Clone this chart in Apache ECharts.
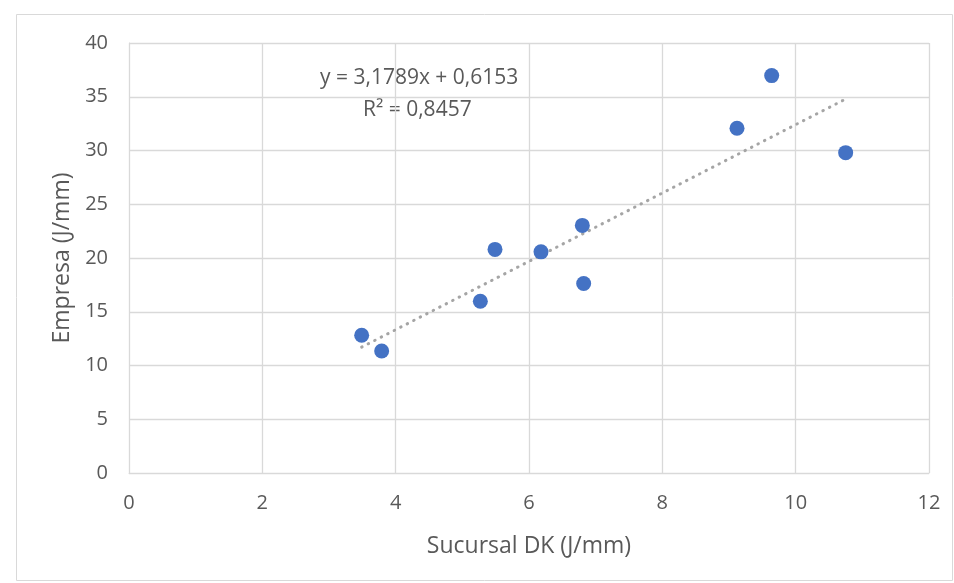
<!DOCTYPE html>
<html>
<head>
<meta charset="utf-8">
<script src="https://cdn.jsdelivr.net/npm/echarts@6/dist/echarts.min.js"></script>
<style>
  html, body { margin: 0; padding: 0; background: #fff; }
  #chart { width: 954px; height: 583px; }
</style>
</head>
<body>
<div id="chart"></div>
<script>
// data
const sucursal = [3.49, 3.79, 5.27, 5.49, 6.18, 6.80, 6.82, 9.12, 9.64, 10.75];
const empresa  = [12.82, 11.35, 15.98, 20.8, 20.57, 23.03, 17.63, 32.07, 36.97, 29.8];

const slope = 3.1789;
const intercept = 0.6153;
const r2 = "0,8457";

const xTicks = [0, 2, 4, 6, 8, 10, 12];
const yTicks = [0, 5, 10, 15, 20, 25, 30, 35, 40];

const points = sucursal.map((x, i) => [x, empresa[i]]);
const xMin = Math.min(...sucursal);
const xMax = Math.max(...sucursal);
const trend = [xMin, xMax].map(x => [x, slope * x + intercept]);

const fmt = v => String(v).replace(".", ",");
const textColor = "#595959";
const font = "'Open Sans', Lato, sans-serif";

const chart = echarts.init(document.getElementById("chart"));
chart.setOption({
  animation: false,
  grid: { left: 129, right: 25, top: 43, bottom: 110 },
  graphic: [
    {
      type: 'rect',
      shape: { x: 16.5, y: 14.5, width: 936, height: 566 },
      style: { fill: 'none', stroke: '#d9d9d9', lineWidth: 1 },
      silent: true
    },
    {
      type: 'text',
      left: 320, top: 68,
      style: { text: `y = ${fmt(slope)}x + ${fmt(intercept)}`, fill: textColor, font: `21px ${font}` }
    },
    {
      type: 'text',
      left: 363, top: 100,
      style: { text: `R² = ${r2}`, fill: textColor, font: `21px ${font}` }
    }
  ],
  xAxis: {
    type: 'value',
    min: xTicks[0], max: xTicks[xTicks.length - 1], interval: 2,
    name: 'Sucursal DK (J/mm)',
    nameLocation: 'middle', nameGap: 62,
    nameTextStyle: { color: textColor, fontSize: 23, fontFamily: font },
    axisLine: { show: true, lineStyle: { color: '#d9d9d9' } },
    axisTick: { show: false },
    axisLabel: { color: textColor, fontSize: 20, fontFamily: font, margin: 20 },
    splitLine: { show: true, lineStyle: { color: '#d9d9d9', width: 1.3 } }
  },
  yAxis: {
    type: 'value',
    min: yTicks[0], max: yTicks[yTicks.length - 1], interval: 5,
    name: 'Empresa (J/mm)',
    nameLocation: 'middle', nameGap: 55,
    nameTextStyle: { color: textColor, fontSize: 23, fontFamily: font },
    axisLine: { show: true, lineStyle: { color: '#d9d9d9' } },
    axisTick: { show: false },
    axisLabel: { color: textColor, fontSize: 20, fontFamily: font, margin: 21 },
    splitLine: { show: true, lineStyle: { color: '#d9d9d9', width: 1.3 } }
  },
  series: [
    {
      type: 'line',
      data: trend,
      symbol: 'none',
      lineStyle: { color: '#a5a5a5', width: 3, type: [0.5, 6.8], cap: 'round' },
      z: 1
    },
    {
      type: 'scatter',
      data: points,
      symbolSize: 15,
      itemStyle: { color: '#4472c4', opacity: 1 },
      z: 2
    }
  ]
});
</script>
</body>
</html>
